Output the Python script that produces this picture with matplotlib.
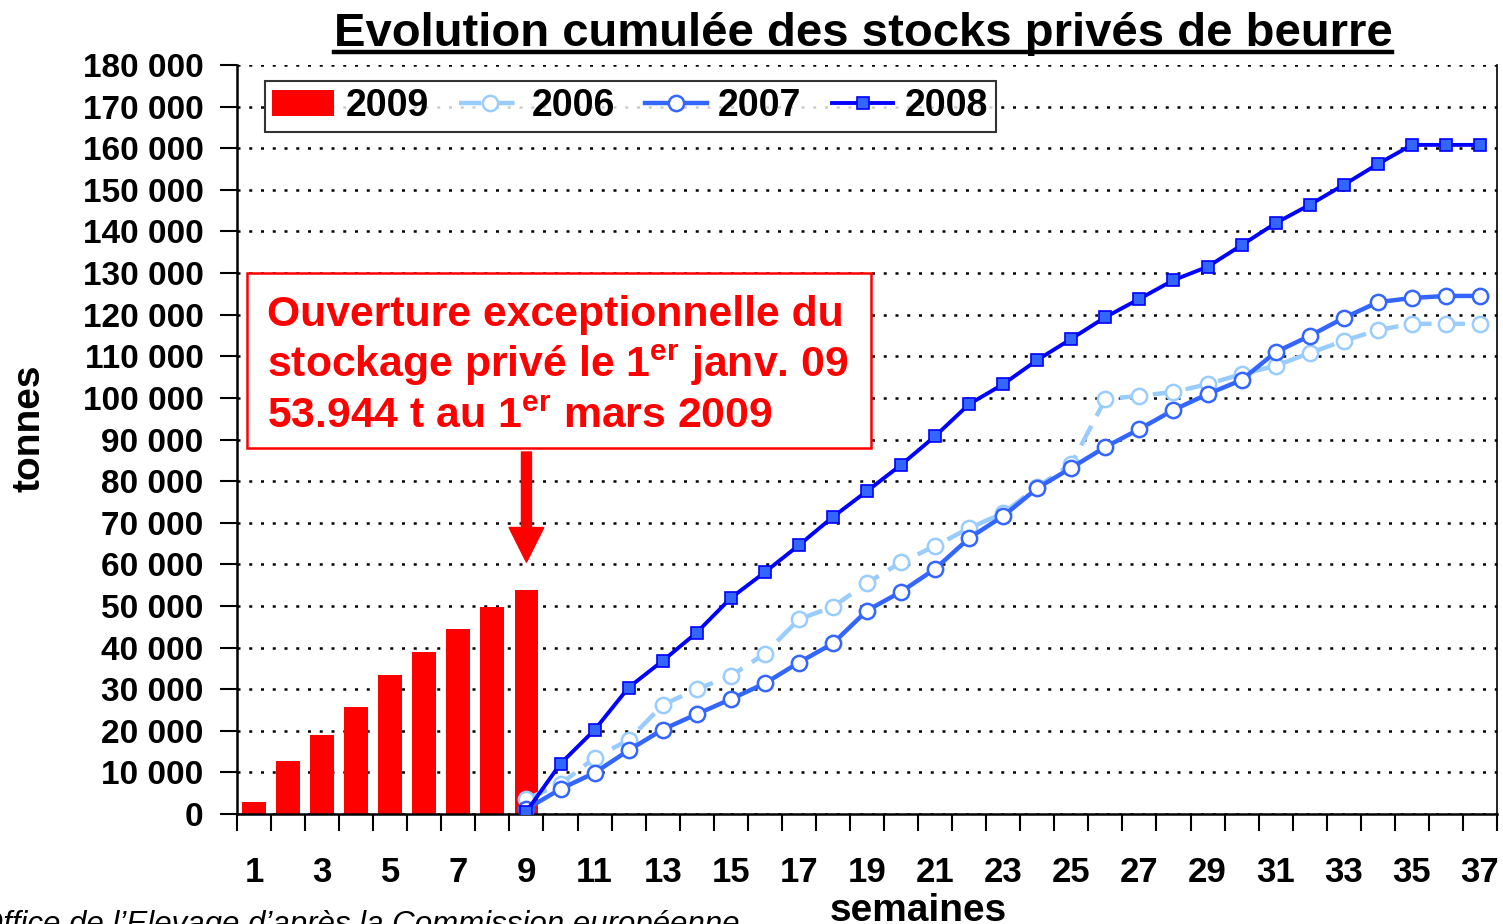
import matplotlib
matplotlib.use("Agg")
from matplotlib import pyplot as plt
from matplotlib.lines import Line2D
from matplotlib.patches import Rectangle

plt.rcParams['font.family'] = ['Liberation Sans', 'DejaVu Sans']
plt.rcParams['font.weight'] = 'bold'
plt.rcParams['mathtext.fontset'] = 'custom'
plt.rcParams['mathtext.rm'] = 'Liberation Sans:bold'
plt.rcParams['mathtext.bf'] = 'Liberation Sans:bold'

weeks = list(range(1, 38))
weeks_2009 = list(range(1, 10))
stocks_2009 = [3000, 12700, 19000, 25700, 33400, 38900, 44500, 49800, 53944]

weeks_lines = list(range(9, 38))
stocks_2006 = [3600, 7200, 13500, 17800, 26200, 30000, 33200, 38500, 46800, 49800,
               55500, 60500, 64400, 68700, 72300, 78600, 84100, 99700, 100500, 101400,
               103300, 105700, 107700, 110800, 113700, 116300, 117800, 117800, 117800]
stocks_2007 = [1200, 6000, 9900, 15300, 20300, 24000, 27600, 31400, 36400, 41000,
               48900, 53400, 58900, 66300, 71600, 78300, 83200, 88200, 92500, 97100,
               100900, 104300, 111000, 114900, 119200, 123000, 124000, 124500, 124500]
stocks_2008 = [600, 12100, 20200, 30400, 36800, 43600, 51900, 58100, 64600, 71400,
               77600, 83900, 90800, 98500, 103300, 109100, 114200, 119400, 123800, 128300,
               131500, 136700, 142000, 146400, 151200, 156200, 160800, 160800, 160800]

yticks = list(range(0, 180001, 10000))
ytick_labels = ['0'] + ['{} 000'.format(v // 1000) for v in yticks[1:]]

W, H = 1503, 924
fig = plt.figure(figsize=(W / 100, H / 100), dpi=100)
ax = fig.add_axes([237 / W, 1 - 814 / H, (1497 - 237) / W, (814 - 65) / H])

b09 = ax.bar(weeks_2009, stocks_2009, width=0.7, color='#FF0000', label='2009', zorder=2)
l06, = ax.plot(weeks_lines, stocks_2006, color='#99CCFF', lw=3.2, ls=(0, (5, 2.5)),
               marker='o', ms=11, mfc='white', mec='#99CCFF', mew=1.8, label='2006', zorder=3)
l07, = ax.plot(weeks_lines, stocks_2007, color='#3366FF', lw=3.2,
               marker='o', ms=11, mfc='white', mec='#3366FF', mew=1.8, label='2007', zorder=4)
l08, = ax.plot(weeks_lines, stocks_2008, color='#0000FF', lw=2.8,
               marker='s', ms=9, mfc='#3366FF', mec='#0000FF', mew=1.2, label='2008', zorder=5)

ax.set_xlim(0.5, 37.5)
ax.set_ylim(0, 180000)
ax.set_yticks(yticks)
ax.set_yticklabels(ytick_labels)
ax.tick_params(axis='y', length=12, width=1.5, pad=12, labelsize=24)
ax.yaxis.grid(True, color='black', ls=(0, (1.2, 3.5)), lw=1.8)
ax.set_axisbelow(True)

ax.set_xticks([w + 0.5 for w in range(0, 38)])
ax.set_xticklabels([])
ax.set_xticks([w for w in weeks if w % 2 == 1], minor=True)
ax.set_xticklabels([str(w) for w in weeks if w % 2 == 1], minor=True)
ax.tick_params(axis='x', which='major', length=12, width=1.5, direction='out')
ax.tick_params(axis='x', which='minor', length=0, pad=30, labelsize=25)

for s in ['left', 'bottom']:
    ax.spines[s].set_linewidth(1.8)
ax.spines['top'].set_visible(False)
ax.spines['right'].set_linewidth(1.2)

fig.text(30 / W, 1 - 428 / H, 'tonnes', rotation=90, ha='center', va='center',
         fontsize=28, weight='bold')
fig.text(918 / W, 1 - 921 / H, 'semaines', ha='center', va='baseline', fontsize=28,
         weight='bold')

leg = ax.legend([b09, l06, l07, l08], ['2009', '2006', '2007', '2008'],
                loc='upper left', bbox_to_anchor=(0.022, 0.979), ncol=4, fontsize=27,
                frameon=True, fancybox=False, edgecolor='black', handlelength=1.65,
                columnspacing=0.8, handletextpad=0.3, borderpad=0.2, borderaxespad=0)
leg.get_frame().set_linewidth(1.5)

# annotation box
box = Rectangle((10 / 1260, (814 - 448) / 749), 624 / 1260, 175 / 749, transform=ax.transAxes,
                facecolor='white', edgecolor='#FF0000', lw=1.8, zorder=6)
ax.add_patch(box)
lines = ['Ouverture exceptionnelle du',
         r'stockage privé le 1$^{\mathbf{er}}$ janv. 09',
         r'53.944 t au 1$^{\mathbf{er}}$ mars 2009']
for txt, base in zip(lines, [326, 377, 428]):
    ax.text(30 / 1260, (814 - base) / 749, txt, transform=ax.transAxes, color='#FF0000',
            fontsize=30.8, ha='left', va='baseline', zorder=7)

ax.annotate('', xy=(9, 60500), xytext=(9, 87000),
            arrowprops=dict(arrowstyle='simple,head_width=1.25,head_length=1.25,tail_width=0.36',
                            color='#FF0000', shrinkA=0, shrinkB=0, mutation_scale=20))

title = fig.text(863 / W, 1 - 46 / H, 'Evolution cumulée des stocks privés de beurre',
                 ha='center', va='baseline', fontsize=34)
fig.canvas.draw()
bb = title.get_window_extent()
fig.add_artist(Line2D([bb.x0 / W, bb.x1 / W], [1 - 52 / H, 1 - 52 / H], color='black', lw=3.2))

fig.text(740 / W, 1 - 933 / H, 'Source : Office de l\u2019Elevage d\u2019après la Commission européenne',
         ha='right', va='baseline', fontsize=22.5, style='italic', weight='normal')

fig.savefig('out.png', dpi=100)
